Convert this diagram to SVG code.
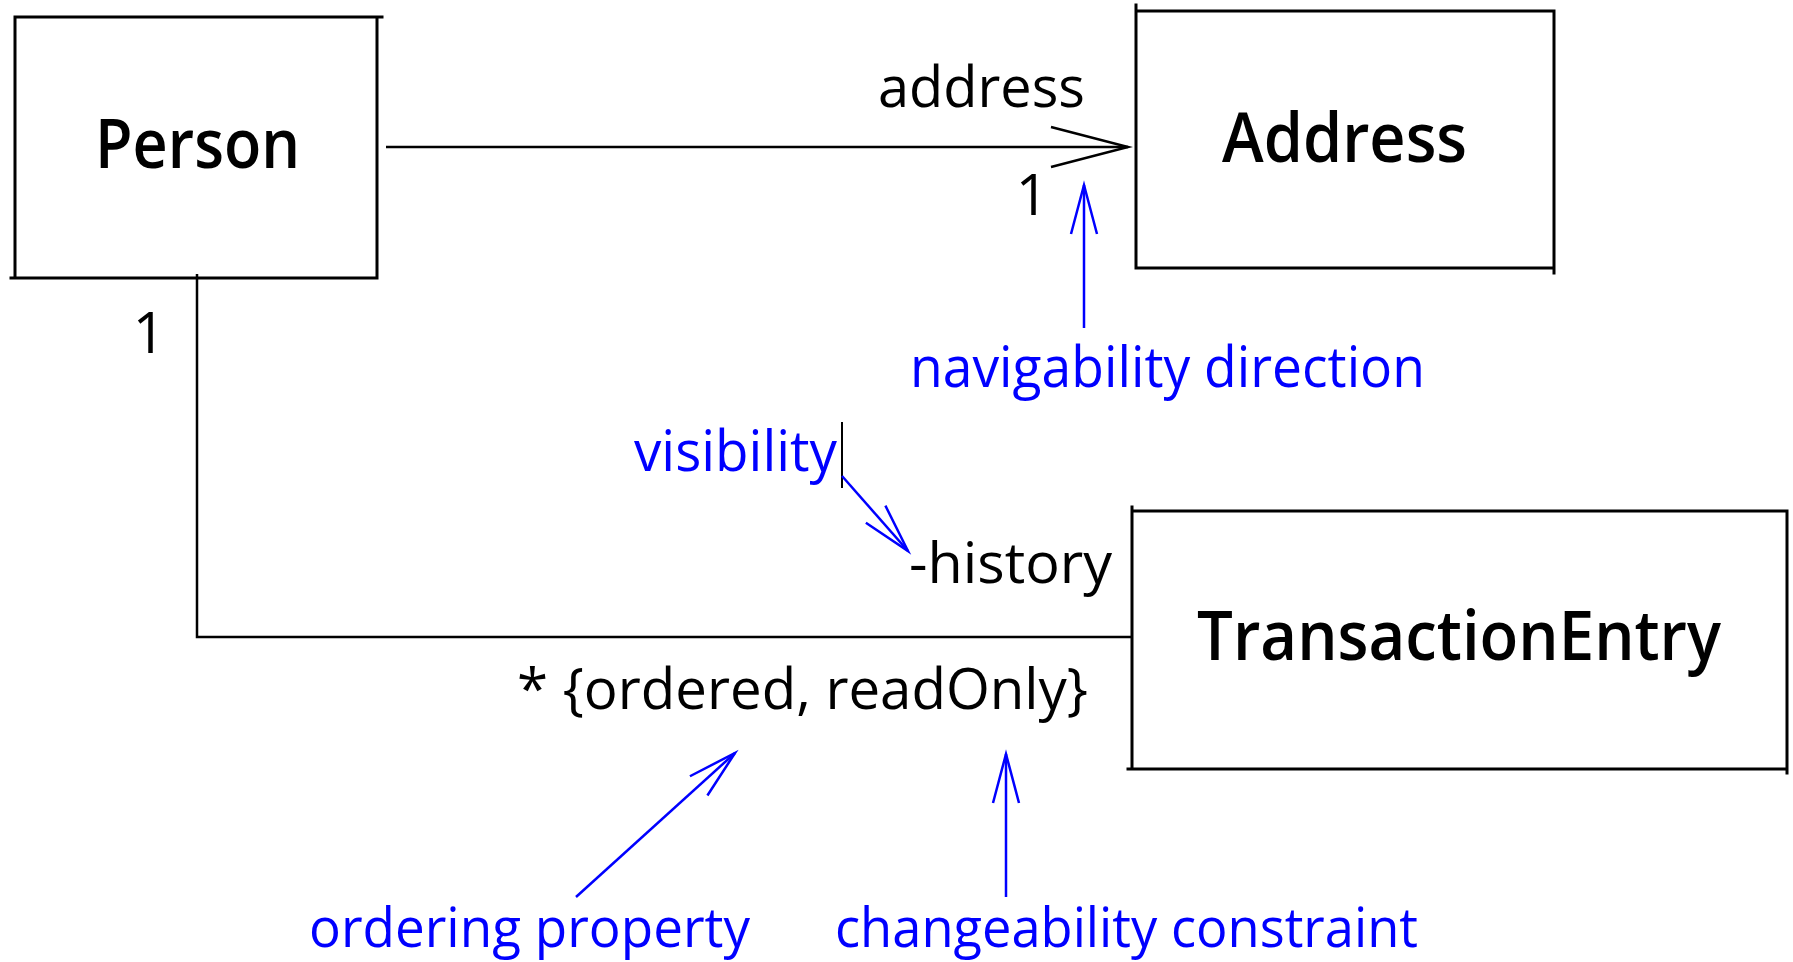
<svg xmlns="http://www.w3.org/2000/svg" width="1793" height="962" viewBox="0 0 1793 962">
<style>
.box{stroke:#000;stroke-width:3;fill:none;stroke-linecap:square}
.title{font-family:"Open Sans","Noto Sans",sans-serif;font-size:68px;font-weight:600;fill:#000}
.lbl{font-family:"Open Sans","Noto Sans",sans-serif;font-size:57px;fill:#000}
.note{font-family:"Open Sans","Noto Sans",sans-serif;font-size:57px;fill:#0000ff}
.note-low{font-family:"Open Sans","Noto Sans",sans-serif;font-size:54px;fill:#0000ff}
.assoc{stroke:#000;stroke-width:2.5;fill:none}
.ann{stroke:#0000ff;stroke-width:2.5;fill:none}
</style>
<defs>
<marker id="open-black" markerUnits="userSpaceOnUse" orient="auto" refX="0" refY="0" markerWidth="10" markerHeight="10" overflow="visible">
<path d="M-77,-20 L0,0 L-77,20" fill="none" stroke="#000" stroke-width="2.5"/>
</marker>
<marker id="open-blue" markerUnits="userSpaceOnUse" orient="auto" refX="0" refY="0" markerWidth="10" markerHeight="10" overflow="visible">
<path d="M-49,-13 L0,0 L-49,13" fill="none" stroke="#0000ff" stroke-width="2.5"/>
</marker>
</defs>
<rect width="1793" height="962" fill="#fff"/>
<g id="person">
<path class="box" d="M15,17 H382 M15,17 V278 M11,278 H377 M377,17 V278"/>
<text class="title" x="95" y="168" textLength="205" lengthAdjust="spacingAndGlyphs">Person</text>
</g>
<g id="address">
<path class="box" d="M1136,5 V268 M1136,11 H1554 M1554,11 V273 M1136,268 H1554"/>
<text class="title" x="1222" y="162" textLength="245" lengthAdjust="spacingAndGlyphs">Address</text>
</g>
<g id="transactionentry">
<path class="box" d="M1132,507 V769 M1132,511 H1787 M1787,511 V773 M1128,769 H1787"/>
<text class="title" x="1197" y="660" textLength="524" lengthAdjust="spacingAndGlyphs">TransactionEntry</text>
</g>
<g id="connectors">
<path class="assoc" d="M386,147 H1128" marker-end="url(#open-black)"/>
<path class="assoc" d="M197,274 V637 H1132"/>
<line x1="842" y1="422" x2="842" y2="488" stroke="#000" stroke-width="2"/>
<path class="ann" d="M1084,328 V185" marker-end="url(#open-blue)"/>
<path class="ann" d="M842,476 L908,551" marker-end="url(#open-blue)"/>
<path class="ann" d="M576,897 L735,753" marker-end="url(#open-blue)"/>
<path class="ann" d="M1006,897 V754" marker-end="url(#open-blue)"/>
</g>
<g id="labels">
<text class="lbl" x="878" y="107" textLength="207" lengthAdjust="spacingAndGlyphs">address</text>
<text class="lbl" x="1032" y="215" text-anchor="middle">1</text>
<text class="lbl" x="149" y="353" text-anchor="middle">1</text>
<text class="lbl" x="909" y="583" textLength="203" lengthAdjust="spacingAndGlyphs">-history</text>
<text class="lbl" x="517" y="709" textLength="571" lengthAdjust="spacingAndGlyphs">* {ordered, readOnly}</text>
<text class="note" x="910" y="387" textLength="515" lengthAdjust="spacingAndGlyphs">navigability direction</text>
<text class="note" x="634" y="471" textLength="203" lengthAdjust="spacingAndGlyphs">visibility</text>
<text class="note-low" x="309" y="947" textLength="441" lengthAdjust="spacingAndGlyphs">ordering property</text>
<text class="note-low" x="835" y="947" textLength="583" lengthAdjust="spacingAndGlyphs">changeability constraint</text>
</g>
</svg>
